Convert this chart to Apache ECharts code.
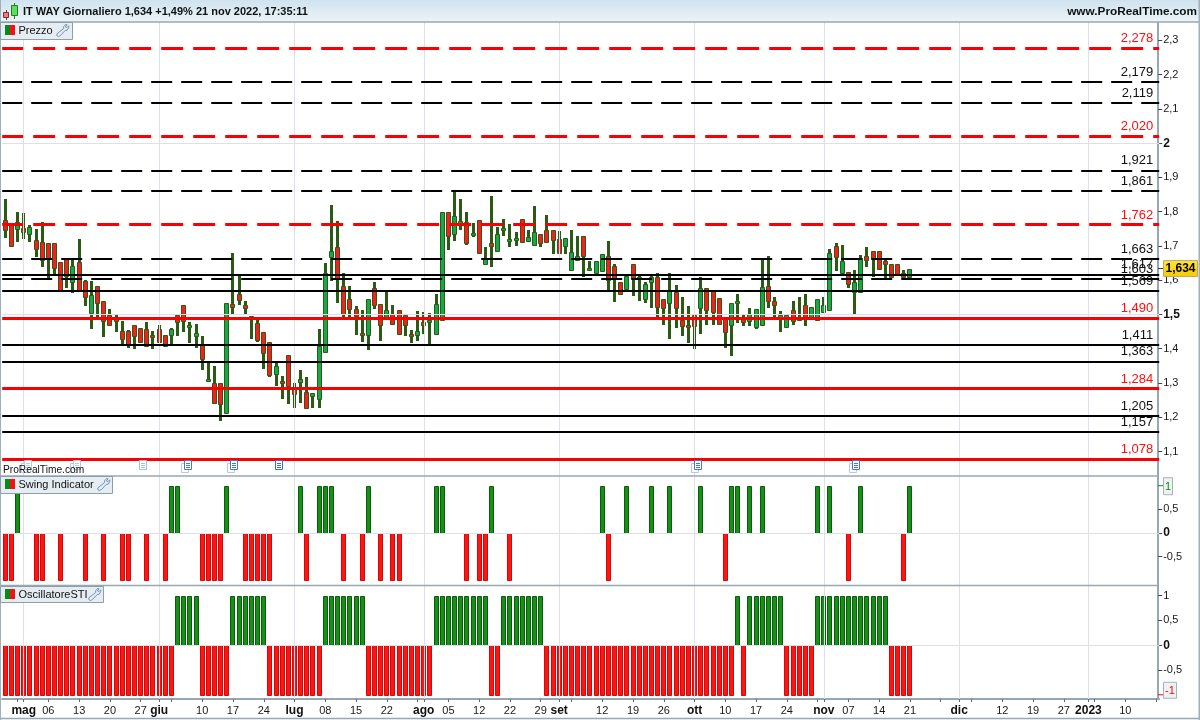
<!DOCTYPE html>
<html><head><meta charset="utf-8">
<style>html,body{margin:0;padding:0;background:#fff}#c{width:1200px;height:720px}</style>
<script src="https://cdn.jsdelivr.net/npm/echarts@6/dist/echarts.min.js"></script>
</head><body><div id="c"></div>
<script>
const opens=[1.775,1.766,1.751,1.752,1.734,1.716,1.711,1.708,1.708,1.652,
1.661,1.594,1.652,1.597,1.505,1.582,1.538,1.498,1.489,1.451,
1.451,1.468,1.460,1.457,1.439,1.457,1.439,1.439,1.498,1.527,
1.462,1.436,1.410,1.305,1.299,1.299,1.212,1.530,1.559,1.527,
1.495,1.474,1.448,1.419,1.327,1.305,1.381,1.289,1.304,1.273,
1.263,1.252,1.389,1.667,1.696,1.582,1.544,1.515,1.445,1.439,
1.576,1.530,1.489,1.500,1.512,1.498,1.442,1.439,1.477,1.480,
1.442,1.483,1.798,1.734,1.766,1.769,1.731,1.775,1.646,1.708,
1.684,1.746,1.714,1.717,1.778,1.714,1.702,1.734,1.746,1.746,
1.719,1.699,1.629,1.658,1.728,1.630,1.621,1.626,1.670,1.641,
1.594,1.573,1.647,1.606,1.546,1.594,1.608,1.544,1.534,1.565,
1.484,1.468,1.498,1.520,1.576,1.568,1.547,1.489,1.470,1.536,
1.493,1.480,1.462,1.470,1.582,1.538,1.495,1.462,1.512,1.486,
1.527,1.490,1.483,1.508,1.512,1.699,1.620,1.623,1.567,1.565,
1.670,1.684,1.684,1.655,1.646,1.646,1.620,1.608];
const closes=[1.746,1.700,1.769,1.740,1.755,1.690,1.658,1.661,1.635,1.570,
1.611,1.641,1.570,1.550,1.556,1.533,1.480,1.468,1.481,1.427,
1.410,1.436,1.419,1.408,1.436,1.419,1.408,1.457,1.477,1.480,
1.468,1.445,1.369,1.311,1.241,1.238,1.533,1.521,1.541,1.518,
1.492,1.426,1.387,1.324,1.349,1.299,1.290,1.267,1.311,1.227,
1.270,1.409,1.620,1.684,1.605,1.500,1.515,1.495,1.439,1.544,
1.527,1.468,1.512,1.471,1.442,1.468,1.439,1.451,1.468,1.483,
1.530,1.798,1.728,1.787,1.772,1.708,1.737,1.679,1.661,1.699,
1.734,1.752,1.719,1.722,1.711,1.725,1.740,1.708,1.711,1.716,
1.680,1.722,1.681,1.672,1.672,1.636,1.656,1.678,1.601,1.606,
1.559,1.611,1.606,1.608,1.588,1.608,1.521,1.520,1.568,1.520,
1.467,1.462,1.467,1.576,1.512,1.508,1.473,1.448,1.533,1.538,
1.477,1.500,1.515,1.579,1.538,1.527,1.498,1.498,1.480,1.489,
1.489,1.521,1.544,1.527,1.679,1.667,1.655,1.588,1.594,1.665,
1.658,1.665,1.632,1.646,1.608,1.614,1.610,1.634];
const highs=[1.837,1.766,1.799,1.796,1.761,1.750,1.770,1.708,1.708,1.652,
1.661,1.659,1.720,1.601,1.597,1.582,1.538,1.515,1.500,1.481,
1.454,1.468,1.460,1.477,1.451,1.468,1.439,1.460,1.498,1.527,
1.477,1.471,1.436,1.357,1.349,1.299,1.533,1.679,1.615,1.538,
1.495,1.483,1.448,1.419,1.360,1.320,1.381,1.299,1.338,1.318,
1.270,1.458,1.649,1.820,1.773,1.620,1.582,1.524,1.512,1.544,
1.594,1.530,1.568,1.527,1.512,1.498,1.454,1.509,1.506,1.503,
1.559,1.798,1.798,1.859,1.837,1.798,1.767,1.775,1.696,1.846,
1.755,1.778,1.763,1.741,1.778,1.747,1.817,1.734,1.790,1.746,
1.744,1.722,1.747,1.729,1.729,1.656,1.656,1.678,1.714,1.647,
1.594,1.617,1.647,1.611,1.594,1.611,1.620,1.544,1.620,1.585,
1.550,1.524,1.498,1.608,1.576,1.568,1.547,1.489,1.533,1.559,
1.499,1.518,1.515,1.659,1.670,1.550,1.510,1.500,1.539,1.550,
1.559,1.521,1.544,1.550,1.691,1.708,1.702,1.623,1.629,1.673,
1.696,1.684,1.684,1.659,1.646,1.646,1.629,1.634];
const lows=[1.723,1.697,1.712,1.719,1.712,1.667,1.639,1.606,1.617,1.570,
1.577,1.563,1.570,1.525,1.458,1.489,1.434,1.468,1.449,1.411,
1.402,1.399,1.417,1.405,1.399,1.416,1.405,1.408,1.437,1.449,
1.417,1.402,1.338,1.305,1.241,1.189,1.212,1.498,1.528,1.498,
1.428,1.421,1.341,1.318,1.291,1.253,1.239,1.227,1.241,1.227,
1.227,1.227,1.389,1.598,1.534,1.492,1.492,1.440,1.420,1.396,
1.516,1.423,1.489,1.471,1.442,1.437,1.417,1.423,1.443,1.411,
1.442,1.483,1.688,1.715,1.747,1.703,1.727,1.679,1.646,1.639,
1.684,1.729,1.697,1.700,1.711,1.714,1.702,1.697,1.711,1.677,
1.677,1.677,1.629,1.657,1.609,1.627,1.621,1.626,1.572,1.536,
1.557,1.572,1.554,1.539,1.534,1.519,1.489,1.469,1.428,1.461,
1.437,1.417,1.399,1.443,1.469,1.469,1.473,1.402,1.379,1.475,
1.466,1.466,1.459,1.469,1.519,1.491,1.449,1.461,1.469,1.481,
1.466,1.484,1.482,1.507,1.511,1.627,1.620,1.577,1.501,1.564,
1.639,1.608,1.630,1.606,1.606,1.611,1.606,1.608];

const swingUpDays=[2,27,28,36,48,51,52,53,59,70,71,79,97,101,105,108,113,118,119,121,123,132,134,139,147];
const swingDownDays=[0,1,5,6,9,13,16,19,20,23,26,32,33,34,35,39,40,41,42,43,49,55,58,61,63,64,75,77,78,82,98,117,137,146];
const oscUpDays=[28,29,30,31,37,38,39,40,41,42,52,53,54,55,56,57,58,70,71,72,73,74,75,76,77,78,81,82,83,84,85,86,87,119,121,122,123,124,125,126,132,133,134,135,136,137,138,139,140,141,142,143];

const redDashed=[2.278,2.020,1.762];
const blackDashed=[2.179,2.119,1.921,1.861,1.663,1.603];
const blackSolid=[1.617,1.569,1.411,1.363,1.205,1.157];
const redSolid=[1.490,1.284,1.078];

const slotCount=188;
const xLabels={3:'mag',7:'06',12:'13',17:'20',22:'27',25:'giu',32:'10',37:'17',42:'24',47:'lug',52:'08',57:'15',62:'22',68:'ago',72:'05',77:'12',82:'22',87:'29',90:'set',97:'12',102:'19',107:'26',112:'ott',117:'10',122:'17',127:'24',133:'nov',137:'07',142:'14',147:'21',155:'dic',162:'12',167:'19',172:'27',176:'2023',182:'10'};
const boldLabels=['mag','giu','lug','ago','set','ott','nov','dic','2023'];
const xTicks=[2,3,7,12,17,22,25,27,32,37,42,47,52,57,62,67,68,72,77,82,87,90,92,97,102,107,112,117,122,127,132,133,137,142,147,152,155,157,162,167,172,176,177,182,187];
const monthGrid=[3,25,47,68,90,112,133,155,176];

const priceTicks=[1.1,1.2,1.3,1.4,1.5,1.6,1.7,1.8,1.9,2,2.1,2.2,2.3];
const priceGrid=[1.5,2];
const swingTicks=[1,0.5,0,-0.5];
const oscTicks=[1,0.5,0,-0.5,-1];
const lastPrice=1.634;

const fontFam='"Liberation Sans",Arial,sans-serif';
const comma=v=>String(v).replace('.',',');
const fix3=v=>v.toFixed(3).replace('.',',');
const categories=Array.from({length:slotCount},(_,i)=>'d'+i);

const WICK='#2a5a14', UP='#17a848', DOWN='#fb1c1c';
const GRID='#dde0ea', AX='#98a8b2';

function candleItem(params,api){
  const i=api.value(0),o=api.value(1),c=api.value(2),l=api.value(3),h=api.value(4);
  const cx=api.coord([i,o])[0];
  const yo=api.coord([i,o])[1],yc=api.coord([i,c])[1],yl=api.coord([i,l])[1],yh=api.coord([i,h])[1];
  const top=Math.round(Math.min(yo,yc)),bot=Math.max(Math.round(Math.max(yo,yc)),top+2);
  const bx=Math.round(cx-2.5),wx=Math.round(cx-1.5);
  return {type:'group',children:[
    {type:'rect',shape:{x:wx,y:Math.round(yh),width:3,height:Math.max(1,Math.round(yl)-Math.round(yh))},style:{fill:WICK}},
    {type:'rect',shape:{x:bx+0.5,y:top+0.5,width:4,height:bot-top},style:{fill:c>=o?UP:DOWN,stroke:WICK,lineWidth:1}}
  ]};
}
function signalItem(params,api){
  const i=api.value(0),v=api.value(1);
  const cx=api.coord([i,0])[0],y0=api.coord([i,0])[1],y1=api.coord([i,v])[1];
  const t=Math.round(Math.min(y0,y1)),b=Math.round(Math.max(y0,y1));
  const x=Math.round(cx-2.5);
  const up=v>0;
  return {type:'rect',shape:{x:x+0.5,y:t+0.5,width:4,height:b-t},
    style:{fill:up?'#169016':'#ff1414',stroke:up?'#0a5c0a':'#d40808',lineWidth:1}};
}
const vGrid=()=>({type:'line',data:[],silent:true,z:0,markLine:{silent:true,symbol:'none',animation:false,label:{show:false},
  lineStyle:{color:GRID,width:1,type:'solid'},data:monthGrid.map(i=>({xAxis:i}))}});
function levelItem(v,color,w,dash,off){
  return {yAxis:v,lineStyle:{color,width:w,type:dash||'solid',dashOffset:off||0},
    label:{show:true,position:'insideEndTop',formatter:fix3(v),color:color==='#000000'?'#111':'#fb0f0f',fontSize:13,fontFamily:fontFam,distance:[6,3]}};
}
const candleData=opens.map((o,i)=>[i,o,closes[i],lows[i],highs[i]]);
const swingData=[...swingUpDays.map(i=>[i,1]),...swingDownDays.map(i=>[i,-1])];
const oscData=Array.from({length:148},(_,i)=>[i,oscUpDays.includes(i)?1:-1]);

const priceLabel=v=>{const s=comma(v);return (v===2||v===1.5)?'{b|'+s+'}':s;};
const indLabel=v=>{const s=comma(v);return v===0?'{b|0}':s;};
const labelStyle={color:'#1a1a1a',fontSize:11,fontFamily:fontFam,margin:5,rich:{b:{fontWeight:'bold',fontSize:12,fontFamily:fontFam,color:'#111'}}};
const yBase={type:'value',position:'right',offset:-1,scale:true,splitLine:{show:false},axisLine:{show:true,onZero:false,lineStyle:{color:AX,width:2}},
  axisTick:{show:true,length:4,lineStyle:{color:'#444'}}};

const L=2.2,W=1157;
const chart=echarts.init(document.getElementById('c'),null,{renderer:'canvas'});
chart.setOption({
  animation:false,backgroundColor:'#fff',tooltip:{show:false},
  grid:[{left:L,top:22,width:W,height:454},{left:L,top:476,width:W,height:109.5},{left:L,top:585.5,width:W,height:113.5}],
  xAxis:[0,1,2].map(g=>({type:'category',gridIndex:g,data:categories,boundaryGap:true,
    axisLine:{show:g===2,onZero:false,lineStyle:{color:AX,width:2}},
    axisTick:{show:g===2,alignWithLabel:true,length:3,lineStyle:{color:'#667'},interval:i=>xTicks.includes(i)},
    axisLabel:{show:g===2,interval:0,hideOverlap:false,margin:6,color:'#1a1a1a',fontSize:11,fontFamily:fontFam,
      formatter:(v,i)=>{const s=xLabels[i];if(!s)return '';return boldLabels.includes(s)?'{b|'+s+'}':s;},
      rich:{b:{fontWeight:'bold',fontSize:12,fontFamily:fontFam,color:'#111'}}},
    splitLine:{show:false}})),
  yAxis:[
    {...yBase,gridIndex:0,min:1.0284,max:2.3539,axisLabel:{...labelStyle,customValues:priceTicks,formatter:priceLabel},axisTick:{...yBase.axisTick,customValues:priceTicks}},
    {...yBase,gridIndex:1,min:-1.11,max:1.205,axisLabel:{...labelStyle,customValues:swingTicks.slice(1),formatter:indLabel},axisTick:{...yBase.axisTick,customValues:swingTicks.slice(1)}},
    {...yBase,gridIndex:2,min:-1.085,max:1.205,axisLabel:{...labelStyle,customValues:oscTicks.slice(0,4),formatter:indLabel},axisTick:{...yBase.axisTick,customValues:oscTicks.slice(0,4)}}
  ],
  series:[
    {...vGrid(),xAxisIndex:0,yAxisIndex:0},
    {type:'line',data:[],silent:true,z:0,xAxisIndex:0,yAxisIndex:0,markLine:{silent:true,symbol:'none',animation:false,label:{show:false},lineStyle:{color:GRID,width:1,type:'solid'},data:priceGrid.map(v=>({yAxis:v}))}},
    {...vGrid(),xAxisIndex:1,yAxisIndex:1},
    {type:'line',data:[],silent:true,z:0,xAxisIndex:1,yAxisIndex:1,markLine:{silent:true,symbol:'none',animation:false,label:{show:false},lineStyle:{color:GRID,width:1,type:'solid'},data:[{yAxis:0}]}},
    {...vGrid(),xAxisIndex:2,yAxisIndex:2},
    {type:'line',data:[],silent:true,z:0,xAxisIndex:2,yAxisIndex:2,markLine:{silent:true,symbol:'none',animation:false,label:{show:false},lineStyle:{color:GRID,width:1,type:'solid'},data:[{yAxis:0}]}},
    {type:'custom',name:'IT WAY',xAxisIndex:0,yAxisIndex:0,z:2,clip:false,renderItem:candleItem,data:candleData,encode:{x:0,y:[1,2,3,4]}},
    {type:'line',data:[],silent:true,z:3,xAxisIndex:0,yAxisIndex:0,markLine:{silent:true,symbol:'none',animation:false,precision:3,
      data:[...redDashed.map(v=>levelItem(v,'#fb0000',3,[22,10],1)),...blackDashed.map(v=>levelItem(v,'#000000',2,[21,9],1)),
            ...blackSolid.map(v=>levelItem(v,'#000000',2)),...redSolid.map(v=>levelItem(v,'#fb0000',3))]}},
    {type:'custom',name:'Swing Indicator',xAxisIndex:1,yAxisIndex:1,z:2,renderItem:signalItem,data:swingData,encode:{x:0,y:1}},
    {type:'custom',name:'OscillatoreSTI',xAxisIndex:2,yAxisIndex:2,z:2,renderItem:signalItem,data:oscData,encode:{x:0,y:1}}
  ]
});

/* chrome: header, legend tags, separators, markers */
const wrenchPts=[[12,0],[9,3],[9,5],[1,11],[1,13],[3,14],[5,13],[11,7],[13,7],[15,4],[15,2],[13,4],[11,3],[13,1]];
function tag(x,y,w,h,label,wx){
  return [
    {type:'rect',shape:{x:x+0.5,y:y+0.5,width:w,height:h},style:{fill:'#e5edf2',stroke:'#8d9fab',lineWidth:1}},
    {type:'rect',shape:{x:5,y:y+3,width:5,height:10},style:{fill:'#0b8a1a'}},
    {type:'rect',shape:{x:10,y:y+3,width:5,height:10},style:{fill:'#f01414'}},
    {type:'text',x:18.5,y:y+9,style:{text:label,fill:'#111',font:'11px '+fontFam,textVerticalAlign:'middle'}},
    {type:'polygon',shape:{points:wrenchPts.map(p=>[wx+p[0]*0.85,y+2+p[1]*0.9])},style:{fill:'none',stroke:'#6f93b8',lineWidth:1}}
  ];
}
function doc(x,double,color){
  const y=461,els=[];
  if(double)els.push({type:'rect',shape:{x:x-3.5,y:y+2.5,width:7,height:9},style:{fill:'#fff',stroke:'#b5c8ea',lineWidth:1}});
  els.push({type:'rect',shape:{x:x-0.5,y:y-0.5,width:7,height:9},style:{fill:'#fff',stroke:color,lineWidth:1}});
  [2,4,6].forEach(d=>els.push({type:'rect',shape:{x:x+1,y:y+d,width:4,height:1},style:{fill:color}}));
  return els;
}
const P=(axis,v)=>chart.convertToPixel({yAxisIndex:axis},v);
const sep=(y,x2)=>({type:'rect',shape:{x:0,y:y-0.75,width:x2,height:1.5},style:{fill:AX}});
const yPrice=P(0,lastPrice), ySwing=P(1,1), yOsc=P(2,-1);
chart.setOption({graphic:{elements:[
  {type:'rect',z:50,shape:{x:0,y:0,width:1200,height:22},style:{fill:new echarts.graphic.LinearGradient(0,0,0,1,[{offset:0,color:'#cfe3ef'},{offset:1,color:'#ecf4f8'}])}},
  {type:'rect',z:50,shape:{x:6,y:10,width:1,height:10},style:{fill:'#7a3030'}},
  {type:'rect',z:50,shape:{x:3.5,y:12.5,width:5,height:5},style:{fill:'#f27a7a',stroke:'#7a3030',lineWidth:1}},
  {type:'rect',z:50,shape:{x:14,y:3,width:1,height:16},style:{fill:'#2a7a2a'}},
  {type:'rect',z:50,shape:{x:11.5,y:5.5,width:6,height:10},style:{fill:'#5ce05c',stroke:'#2a7a2a',lineWidth:1}},
  {type:'text',z:51,x:23,y:12,style:{text:'IT WAY Giornaliero 1,634 +1,49% 21 nov 2022, 17:35:11',fill:'#111',font:'bold 11px '+fontFam,textVerticalAlign:'middle'}},
  {type:'text',z:51,x:1197,y:12,style:{text:'www.ProRealTime.com',fill:'#111',font:'bold 11.8px '+fontFam,textAlign:'right',textVerticalAlign:'middle'}},
  {...sep(22,1200),z:52},{...sep(476,1158),z:52},{...sep(585.5,1158),z:52},{...sep(718.5,1200),z:52},
  {type:'rect',z:52,shape:{x:0,y:0,width:1,height:720},style:{fill:'#9fb0bb'}},
  {type:'rect',z:52,shape:{x:1198.5,y:0,width:1.5,height:720},style:{fill:'#9fb0bb'}},
  ...[[25,true,'#b5c8ea'],[74,true,'#b5c8ea'],[140,false,'#a5bce6'],[185,true,'#4a78d0'],[231,true,'#4a78d0'],[276,false,'#3a6fd0'],[695,true,'#4a78d0'],[853,true,'#4a78d0']]
    .flatMap(a=>doc(a[0],a[1],a[2])).map(e=>({...e,z:51})),
  {type:'text',z:52,x:3,y:470,style:{text:'ProRealTime.com',fill:'#111',font:'10.2px '+fontFam,textVerticalAlign:'middle'}},
  ...[...tag(0,22,72,17,'Prezzo',56),...tag(0,476,112,17,'Swing Indicator',97),...tag(0,586,103,16,'OscillatoreSTI',88)].map(e=>({...e,z:53})),
  {type:'rect',z:54,shape:{x:1158,y:yPrice-0.5,width:6,height:1},style:{fill:'#333'}},
  {type:'rect',z:54,shape:{x:1163.5,y:yPrice-8,width:34,height:16},style:{fill:new echarts.graphic.LinearGradient(0,0,0,1,[{offset:0,color:'#ffe63a'},{offset:1,color:'#f7c800'}]),stroke:'#b7ab6a',lineWidth:1}},
  {type:'text',z:55,x:1180.5,y:yPrice,style:{text:'1,634',fill:'#000',font:'bold 12px '+fontFam,textAlign:'center',textVerticalAlign:'middle'}},
  {type:'rect',z:54,shape:{x:1158,y:ySwing-0.5,width:5,height:1},style:{fill:'#0a8a0a'}},
  {type:'rect',z:54,shape:{x:1163.5,y:ySwing-8,width:9,height:17},style:{fill:'#eef2f4',stroke:'#a3b2bb',lineWidth:1}},
  {type:'text',z:55,x:1168,y:ySwing+1,style:{text:'1',fill:'#0a8a0a',font:'11px '+fontFam,textAlign:'center',textVerticalAlign:'middle'}},
  {type:'rect',z:54,shape:{x:1158,y:yOsc-0.5,width:5,height:1},style:{fill:'#f00'}},
  {type:'rect',z:54,shape:{x:1163.5,y:yOsc-12.5,width:13,height:16},style:{fill:'#eef2f4',stroke:'#a3b2bb',lineWidth:1}},
  {type:'text',z:55,x:1170,y:yOsc-4,style:{text:'-1',fill:'#f00',font:'11px '+fontFam,textAlign:'center',textVerticalAlign:'middle'}}
]}});
</script></body></html>
